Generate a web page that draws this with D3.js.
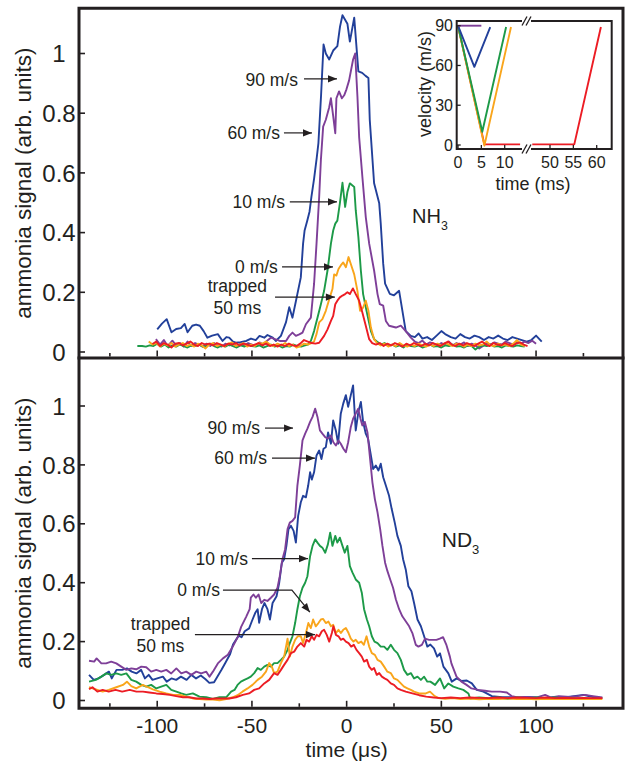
<!DOCTYPE html>
<html><head><meta charset="utf-8">
<script src="https://cdn.jsdelivr.net/npm/d3@7"></script>
<style>
body{margin:0;background:#fff}
svg{display:block}
text{font-family:"Liberation Sans",Arial,sans-serif;fill:#231f20}
</style>
</head><body>
<svg id="c" width="625" height="762"></svg>
<script>
// ---------- DATA (time in µs, signal in arb. units) ----------
const topBlue60 = [[-100,0.076],[-97.5,0.095],[-95,0.11],[-92.5,0.066],[-90,0.077],[-87.5,0.08],[-85.5,0.094],[-84,0.066],[-81.5,0.088],[-79.5,0.092],[-77.5,0.088],[-75.5,0.07],[-73.5,0.048],[-71,0.055],[-68,0.06],[-65.5,0.037],[-63.5,0.05],[-62,0.048],[-60,0.035],[-58.5,0.031],[-56,0.033],[-53,0.037],[-50.5,0.045],[-48,0.04],[-46,0.054],[-43.5,0.048],[-41.8,0.057],[-39,0.048],[-37.4,0.037],[-34.7,0.054],[-32,0.1],[-30.3,0.15],[-28.6,0.115],[-26.8,0.17],[-24.2,0.25],[-23,0.363],[-22.2,0.407],[-20.8,0.44],[-19.6,0.47],[-18.6,0.52],[-17.2,0.58],[-15.8,0.65],[-14.9,0.7],[-13.5,0.86],[-12.2,1.03],[-11,1.0],[-9.2,0.98],[-7.1,1.01],[-4.9,1.025],[-3.5,1.09],[-2.2,1.128],[0.4,1.10],[1.7,1.04],[4,1.12],[6.2,0.94],[8.2,0.935],[10,0.925],[11.5,0.918],[12.2,0.778],[14.5,0.565],[17.2,0.498],[18,0.43],[19.3,0.296],[20.3,0.229],[22.8,0.195],[25,0.19],[27.7,0.205],[31.2,0.07],[33.9,0.054],[36,0.05],[38,0.062],[40,0.045],[42.5,0.05],[45,0.04],[47.5,0.055],[50,0.07],[52,0.06],[55,0.05],[57.5,0.045],[60,0.06],[62.5,0.05],[65,0.045],[67.5,0.055],[70,0.05],[72.5,0.04],[75,0.05],[77.5,0.045],[80,0.055],[82.5,0.045],[85,0.04],[87.5,0.05],[90,0.045],[92.5,0.04],[95,0.035],[97.5,0.04],[100,0.055],[103,0.035]];
const topPurple90 = [[-100.7,0.043],[-98.5,0.025],[-96.5,0.04],[-94.5,0.02],[-92,0.038],[-90,0.022],[-88,0.03],[-86,0.018],[-84,0.035],[-82,0.02],[-80,0.03],[-78,0.025],[-76,0.018],[-74,0.028],[-72,0.02],[-70,0.03],[-68,0.022],[-66,0.018],[-64,0.028],[-62,0.022],[-60,0.03],[-58,0.02],[-56,0.028],[-54,0.022],[-52,0.03],[-50,0.025],[-48,0.02],[-46,0.032],[-44,0.025],[-42,0.038],[-40,0.048],[-37.5,0.042],[-35.3,0.037],[-32,0.037],[-30.3,0.054],[-28.6,0.065],[-26.8,0.054],[-25,0.059],[-23.3,0.065],[-21.5,0.093],[-18.9,0.115],[-17.2,0.228],[-15.9,0.363],[-14.5,0.52],[-13.6,0.643],[-12.4,0.755],[-11,0.778],[-9.2,0.82],[-8.3,0.85],[-7.1,0.79],[-6,0.733],[-5.4,0.85],[-4,0.873],[-2.5,0.85],[-1.3,0.86],[-0.1,0.88],[1.3,0.91],[3.4,0.98],[4.5,1.0],[5.7,0.856],[6.6,0.72],[8.3,0.587],[10.1,0.452],[11.9,0.363],[14.5,0.273],[16.3,0.194],[17.5,0.16],[19.3,0.155],[20.7,0.104],[22.4,0.088],[26,0.082],[28.6,0.088],[31.2,0.07],[33.9,0.048],[36,0.035],[38,0.03],[40,0.038],[42,0.025],[44,0.032],[46,0.028],[48,0.022],[50,0.03],[52,0.025],[54,0.035],[56,0.022],[58,0.03],[60,0.025],[62,0.032],[64,0.02],[66,0.028],[68,0.022],[70,0.012],[72,0.02],[74,0.03],[76,0.025],[78,0.032],[80,0.028],[82,0.025],[84,0.035],[86,0.03],[88,0.025],[90,0.032],[92,0.028],[94,0.035],[96,0.03],[98,0.038],[100,0.028]];
const topGreen10 = [[-110.5,0.02],[-108,0.02],[-106,0.018],[-104,0.022],[-102,0.02],[-100,0.028],[-98,0.018],[-96,0.025],[-94,0.015],[-92,0.022],[-90,0.018],[-88,0.025],[-86,0.02],[-84,0.015],[-82,0.022],[-80,0.02],[-78,0.025],[-76,0.018],[-74,0.02],[-72,0.028],[-70,0.02],[-68,0.015],[-66,0.022],[-64,0.018],[-62,0.025],[-60,0.02],[-58,0.015],[-56,0.022],[-54,0.018],[-52,0.025],[-50,0.02],[-48,0.018],[-46,0.022],[-44,0.015],[-42,0.02],[-40,0.025],[-38,0.018],[-36,0.022],[-34,0.015],[-32,0.02],[-30,0.018],[-28,0.025],[-26,0.02],[-24,0.018],[-22,0.022],[-20.5,0.025],[-18.9,0.037],[-17.2,0.07],[-15.4,0.115],[-13.6,0.16],[-11.9,0.205],[-10.1,0.273],[-8.3,0.363],[-7.1,0.407],[-6,0.43],[-4.9,0.44],[-3.6,0.497],[-2.2,0.567],[-0.8,0.486],[0.4,0.536],[1.7,0.565],[4,0.553],[4.8,0.475],[6.2,0.385],[7.5,0.273],[8.7,0.194],[10.5,0.138],[12.8,0.07],[14.5,0.043],[16,0.035],[18,0.025],[20,0.03],[22,0.02],[24,0.025],[26,0.018],[28,0.022],[30,0.015],[32,0.025],[34,0.02],[36,0.018],[38,0.022],[40,0.015],[42,0.02],[44,0.025],[46,0.018],[48,0.02],[50,0.015],[52,0.022],[54,0.02],[56,0.025],[58,0.018],[60,0.02],[62,0.015],[64,0.022],[66,0.02],[68,0.008],[70,0.018],[72,0.022],[74,0.02],[76,0.025],[78,0.018],[80,0.02],[82,0.015],[84,0.022],[86,0.02],[88,0.018],[90,0.022],[92,0.02],[94,0.018]];
const topOrange0 = [[-104.5,0.035],[-102.5,0.025],[-100.5,0.03],[-98.5,0.018],[-96.5,0.028],[-94.5,0.022],[-92.5,0.03],[-90.5,0.018],[-88.5,0.025],[-86.5,0.03],[-84.5,0.02],[-82.5,0.025],[-80.5,0.018],[-78.5,0.028],[-76.5,0.022],[-74.5,0.012],[-72.5,0.025],[-70.5,0.03],[-68.5,0.02],[-66.5,0.025],[-64.5,0.018],[-62.5,0.028],[-60.5,0.032],[-58.5,0.02],[-56.5,0.025],[-54.5,0.03],[-52.5,0.018],[-50.5,0.025],[-48.5,0.02],[-46.5,0.03],[-44.5,0.028],[-42.5,0.035],[-40.5,0.025],[-38.5,0.02],[-36.5,0.028],[-34.5,0.022],[-32.5,0.03],[-30.5,0.02],[-28.5,0.025],[-26.5,0.015],[-24.5,0.02],[-22.5,0.028],[-20.5,0.025],[-18.5,0.03],[-17.2,0.035],[-15.9,0.06],[-14.5,0.099],[-12.8,0.11],[-11,0.138],[-8.9,0.183],[-7.5,0.211],[-6.6,0.26],[-5.4,0.256],[-4.3,0.278],[-3.1,0.29],[-1.8,0.3],[-0.4,0.284],[1,0.318],[2.2,0.295],[4,0.26],[5.7,0.205],[7.1,0.138],[8.7,0.149],[10.1,0.172],[11.5,0.138],[12.8,0.082],[14.5,0.043],[16,0.03],[18,0.022],[20,0.028],[22,0.018],[24,0.025],[26,0.02],[28,0.03],[30,0.022],[32,0.018],[34,0.025],[36,0.02],[38,0.028],[40,0.022],[42,0.018],[44,0.025],[46,0.02],[48,0.028],[50,0.022],[52,0.03],[54,0.025],[56,0.02],[58,0.028],[60,0.025],[62,0.018],[64,0.025],[66,0.02],[68,0.028],[70,0.022],[72,0.025],[74,0.035],[76,0.022],[78,0.02],[80,0.028],[82,0.022],[84,0.025],[86,0.02],[88,0.028],[90,0.04],[92,0.025],[94,0.02]];
const topRedTrapped = [[-102.5,0.027],[-100.5,0.035],[-98.5,0.02],[-96.5,0.03],[-94.5,0.025],[-92.5,0.015],[-90.5,0.028],[-88.5,0.03],[-86.5,0.022],[-84.5,0.028],[-82.5,0.035],[-80.5,0.025],[-78.5,0.02],[-76.5,0.03],[-74.5,0.025],[-72.5,0.028],[-70.5,0.022],[-68.5,0.03],[-66.5,0.025],[-64.5,0.02],[-62.5,0.028],[-60.5,0.025],[-58.5,0.03],[-56.5,0.022],[-54.5,0.028],[-52.5,0.025],[-50.5,0.02],[-48.5,0.025],[-46.5,0.03],[-44.5,0.022],[-42.5,0.028],[-40.5,0.02],[-38.5,0.025],[-36.5,0.018],[-34.5,0.025],[-32.5,0.02],[-30.5,0.028],[-28.5,0.022],[-26.5,0.02],[-24.5,0.028],[-22.5,0.04],[-20.5,0.035],[-18.5,0.03],[-16.5,0.028],[-14.5,0.031],[-11.9,0.054],[-10.1,0.076],[-8.3,0.104],[-7.1,0.121],[-6,0.16],[-4.9,0.172],[-3.6,0.183],[-2.2,0.189],[-0.8,0.194],[0.4,0.2],[1.7,0.194],[3.3,0.213],[4.8,0.194],[6.6,0.172],[8.3,0.132],[10.1,0.088],[11.9,0.043],[13.5,0.03],[15.5,0.025],[17.5,0.03],[19.5,0.02],[21.5,0.028],[23.5,0.022],[25.5,0.03],[27.5,0.025],[29.5,0.018],[31.5,0.028],[33.5,0.022],[35.5,0.03],[37.5,0.025],[39.5,0.02],[41.5,0.028],[43.5,0.022],[45.5,0.03],[47.5,0.025],[49.5,0.02],[51.5,0.028],[53.5,0.035],[55.5,0.025],[57.5,0.02],[59.5,0.028],[61.5,0.022],[63.5,0.03],[65.5,0.025],[67.5,0.02],[69.5,0.028],[71.5,0.035],[73.5,0.025],[75.5,0.02],[77.5,0.03],[79.5,0.025],[81.5,0.022],[83.5,0.03],[85.5,0.025],[87.5,0.02],[89.5,0.028],[91.5,0.032],[93.5,0.025],[95.5,0.02]];

const botBlue60 = [[-136,0.087],[-133.5,0.07],[-131,0.075],[-128,0.087],[-125.5,0.098],[-124,0.075],[-121.5,0.104],[-118.5,0.104],[-116,0.109],[-113.5,0.098],[-111,0.092],[-108.5,0.104],[-106.5,0.075],[-104.5,0.087],[-102.5,0.07],[-100,0.075],[-97,0.081],[-95,0.064],[-92.5,0.075],[-90,0.07],[-87.5,0.081],[-84.5,0.07],[-82,0.087],[-79.5,0.075],[-77,0.085],[-74.5,0.072],[-72.5,0.06],[-70,0.062],[-68.5,0.078],[-66,0.105],[-64,0.128],[-61.5,0.158],[-60,0.19],[-58.5,0.205],[-57,0.22],[-55.5,0.215],[-53.8,0.235],[-51.5,0.245],[-50,0.27],[-48.3,0.297],[-47,0.31],[-46.2,0.264],[-44.7,0.31],[-43.4,0.331],[-41.8,0.31],[-40.5,0.275],[-39.1,0.331],[-37,0.354],[-35.6,0.4],[-34.2,0.468],[-33,0.48],[-31.8,0.525],[-30.7,0.582],[-29.4,0.593],[-28,0.576],[-26.8,0.536],[-25.6,0.627],[-24.2,0.673],[-23,0.695],[-21.5,0.69],[-20.3,0.73],[-19.3,0.775],[-18.4,0.75],[-17.2,0.775],[-15.9,0.832],[-14.5,0.849],[-13.3,0.82],[-12.2,0.855],[-11,0.86],[-9.8,0.91],[-8.3,0.872],[-7.1,0.951],[-5.7,0.917],[-4.5,0.872],[-3.1,0.974],[-1.8,1.008],[-0.4,1.037],[0.8,0.997],[2.2,1.037],[3.4,1.07],[4.8,0.917],[6.2,0.98],[7.5,1.014],[8.7,0.946],[10.1,0.906],[11.3,0.889],[12.8,0.832],[14,0.786],[15.4,0.798],[16.8,0.781],[18,0.804],[19.3,0.758],[20.7,0.73],[22.4,0.695],[23.8,0.65],[25.4,0.604],[26.8,0.559],[28.6,0.525],[29.8,0.48],[31.2,0.445],[32.6,0.388],[34.2,0.371],[35.6,0.331],[37.4,0.275],[39.2,0.252],[40.9,0.218],[42.6,0.183],[44.2,0.19],[46.1,0.177],[47.8,0.149],[49.3,0.16],[51.1,0.115],[53.7,0.092],[55.5,0.064],[58.1,0.075],[60.8,0.066],[63.4,0.068],[66.1,0.058],[68.7,0.036],[72.2,0.03],[76.7,0.015],[82,0.011],[86.5,0.011],[90,0.008],[95,0.012],[100,0.01],[105,0.008],[110,0.012],[115,0.01],[120,0.015],[125,0.019],[130,0.012],[135,0.008]];
const botPurple90 = [[-136,0.135],[-133.3,0.132],[-132,0.143],[-129.5,0.126],[-127,0.126],[-124.3,0.132],[-121.6,0.126],[-119,0.115],[-116.3,0.104],[-113.7,0.109],[-111.1,0.106],[-108.4,0.115],[-105.8,0.113],[-103.2,0.098],[-100.5,0.104],[-97.9,0.098],[-95.2,0.104],[-92.6,0.092],[-89.9,0.109],[-87.3,0.092],[-84.7,0.098],[-82,0.087],[-79.4,0.098],[-76.8,0.092],[-74.1,0.098],[-72.4,0.081],[-70.6,0.098],[-68,0.126],[-65.3,0.143],[-62.7,0.155],[-60.1,0.183],[-57.4,0.217],[-55.7,0.25],[-53,0.285],[-51.2,0.31],[-50.6,0.349],[-49.2,0.36],[-47.9,0.349],[-46.5,0.36],[-45.1,0.331],[-43.5,0.342],[-41.8,0.338],[-40,0.349],[-38.3,0.36],[-36.5,0.383],[-35.3,0.422],[-33.9,0.48],[-32.5,0.513],[-31.2,0.582],[-30,0.604],[-28.6,0.61],[-27.2,0.622],[-26,0.73],[-24.7,0.798],[-23.3,0.883],[-21.9,0.906],[-20.7,0.923],[-19.3,0.946],[-18,0.963],[-16.6,0.991],[-15.4,0.963],[-14.1,0.917],[-12.8,0.906],[-11.3,0.894],[-9.9,0.889],[-8.3,0.9],[-7,0.877],[-5.7,0.866],[-4.3,0.883],[-3.1,0.872],[-1.7,0.855],[-0.4,0.843],[0.8,0.877],[2.2,0.929],[3.4,0.957],[4.8,0.974],[6.1,0.991],[7.3,0.957],[8.3,0.934],[9.6,0.946],[11,0.91],[12.2,0.832],[13.6,0.741],[14.9,0.684],[16.3,0.639],[17.7,0.582],[18.9,0.525],[20.3,0.468],[21.5,0.44],[23,0.411],[24.5,0.383],[26,0.343],[27.7,0.31],[29.4,0.286],[31.2,0.269],[33,0.252],[34.7,0.229],[36.5,0.189],[37.9,0.183],[39.7,0.189],[41.4,0.21],[43.5,0.206],[45.3,0.206],[47.4,0.206],[49.2,0.21],[50.9,0.215],[52.6,0.19],[54.5,0.149],[55.3,0.126],[58,0.081],[60.6,0.064],[63.3,0.053],[65.9,0.041],[69.5,0.036],[73,0.033],[76.6,0.03],[81,0.03],[84.6,0.027],[87.1,0.015],[89.8,0.011],[95,0.012],[100,0.01],[104.8,0.019],[108,0.01],[112,0.015],[118,0.012],[122,0.015],[125.9,0.019],[130,0.015],[135,0.01]];
const botGreen10 = [[-136,0.064],[-132.4,0.07],[-129.5,0.081],[-126.9,0.092],[-124.3,0.087],[-121.6,0.092],[-119,0.087],[-116.3,0.092],[-113.7,0.07],[-111.1,0.064],[-108.4,0.053],[-105.8,0.047],[-103.2,0.053],[-100.5,0.041],[-97.9,0.047],[-95.2,0.053],[-92.6,0.036],[-89.9,0.03],[-87.3,0.024],[-84.7,0.019],[-81.2,0.024],[-77.7,0.013],[-74.1,0.011],[-70.6,0.005],[-67.1,0.011],[-63.6,0.011],[-61,0.03],[-59.2,0.036],[-57.6,0.053],[-55.8,0.064],[-54,0.07],[-52.3,0.075],[-50.6,0.081],[-48.8,0.093],[-47,0.11],[-45.3,0.104],[-43.5,0.115],[-41.8,0.121],[-40,0.115],[-38.3,0.127],[-36.5,0.127],[-34.7,0.138],[-33,0.149],[-31.2,0.172],[-30,0.195],[-28.6,0.218],[-27.2,0.263],[-26,0.31],[-24.7,0.354],[-23.3,0.383],[-21.9,0.4],[-20.7,0.422],[-19.3,0.49],[-18,0.525],[-16.6,0.547],[-15.4,0.536],[-14.1,0.525],[-12.8,0.519],[-11.3,0.502],[-9.9,0.53],[-8.7,0.57],[-7.5,0.525],[-6,0.559],[-4.9,0.536],[-3.6,0.553],[-2.2,0.525],[-1,0.502],[0.4,0.525],[1.7,0.456],[3.1,0.434],[4.8,0.411],[6.6,0.4],[8,0.366],[9.2,0.31],[10.7,0.275],[11.9,0.252],[13.3,0.218],[14.7,0.2],[16.3,0.195],[18,0.183],[19.8,0.183],[21.5,0.172],[23.3,0.189],[25,0.172],[26.8,0.161],[28.6,0.138],[30.3,0.104],[32.1,0.087],[33.9,0.093],[35.6,0.075],[37.4,0.081],[39.2,0.07],[40.9,0.081],[42.6,0.064],[44.2,0.064],[46.7,0.053],[49.3,0.075],[51.5,0.041],[53.7,0.058],[56.3,0.047],[59,0.041],[61.6,0.036],[64.3,0.024],[65.2,0.007],[70,0.01],[75,0.008],[80,0.01],[85,0.006],[90,0.01],[95,0.007],[100,0.01],[105,0.008],[110,0.01],[115,0.006],[120,0.008],[125,0.005]];
const botOrange0 = [[-136,0.045],[-132.4,0.038],[-128.8,0.03],[-125.6,0.036],[-121.6,0.045],[-118.1,0.053],[-116,0.064],[-113.7,0.049],[-111.1,0.041],[-107.6,0.053],[-104.9,0.045],[-102.3,0.038],[-98.7,0.03],[-95.2,0.024],[-91.6,0.019],[-88,0.019],[-84.7,0.013],[-81.2,0.007],[-77.7,0.005],[-74.1,0.003],[-70.6,0.003],[-67.1,0.001],[-63.6,0.005],[-60.1,0.011],[-57.6,0.018],[-55,0.03],[-52.3,0.041],[-49.7,0.053],[-47,0.07],[-44.7,0.081],[-42.6,0.098],[-40.9,0.127],[-39.5,0.115],[-38.3,0.093],[-36.5,0.098],[-34.7,0.127],[-33,0.149],[-31.2,0.21],[-30,0.149],[-28.6,0.183],[-27.2,0.206],[-25.8,0.218],[-24.2,0.218],[-23,0.195],[-21.5,0.229],[-20.2,0.263],[-18.9,0.246],[-17.7,0.275],[-16.3,0.252],[-14.9,0.263],[-13.6,0.275],[-12.4,0.277],[-11,0.263],[-9.6,0.268],[-8.3,0.252],[-7.1,0.257],[-5.7,0.229],[-4.3,0.24],[-3.1,0.229],[-1.8,0.24],[-0.4,0.246],[1,0.229],[2.2,0.21],[3.6,0.2],[4.8,0.206],[6.2,0.195],[7.7,0.2],[9.1,0.189],[10.5,0.218],[11.9,0.183],[13.3,0.161],[14.9,0.155],[16.3,0.138],[18,0.132],[19.8,0.115],[21.5,0.098],[23.3,0.093],[25,0.075],[26.8,0.07],[28.6,0.058],[30.3,0.047],[32.1,0.041],[33.9,0.036],[35.6,0.03],[38.3,0.024],[41.8,0.024],[44,0.03],[46.5,0.015],[48.5,0.008],[52,0.006],[56,0.008],[60,0.005],[65,0.007],[70,0.004],[75,0.006],[80,0.005],[85,0.007],[90,0.005],[95,0.006],[100,0.004],[105,0.006],[110,0.005],[115,0.006],[120,0.005],[125,0.006],[130,0.005],[135,0.005]];
const botRedTrapped = [[-136,0.038],[-134.2,0.045],[-131.6,0.03],[-128.8,0.036],[-125.6,0.03],[-122,0.036],[-118.5,0.03],[-114.5,0.036],[-111,0.03],[-107.5,0.03],[-104.2,0.027],[-100.5,0.024],[-97,0.022],[-93.4,0.019],[-90,0.015],[-86.4,0.011],[-83,0.011],[-79.4,0.007],[-76,0.007],[-72.4,0.005],[-69,0.007],[-65.5,0.007],[-62,0.007],[-58.4,0.011],[-54.8,0.019],[-51.5,0.024],[-48.8,0.036],[-46.2,0.041],[-43.5,0.058],[-40.9,0.07],[-38.3,0.093],[-36.5,0.087],[-34.7,0.104],[-33,0.121],[-31.2,0.138],[-29.4,0.161],[-27.7,0.166],[-26,0.183],[-24.2,0.195],[-22.4,0.183],[-21.2,0.206],[-19.8,0.2],[-18.4,0.218],[-17.2,0.206],[-15.9,0.223],[-14.5,0.218],[-13.1,0.235],[-11.9,0.24],[-10.5,0.223],[-9.2,0.2],[-7.8,0.229],[-7,0.252],[-5.7,0.223],[-4.3,0.218],[-3.1,0.206],[-1.8,0.21],[-0.4,0.2],[1,0.195],[2.4,0.183],[3.8,0.189],[5.2,0.172],[6.6,0.161],[8,0.149],[9.2,0.132],[10.7,0.138],[11.9,0.115],[13.3,0.104],[14.5,0.11],[15.9,0.087],[17.2,0.093],[18.6,0.081],[20,0.075],[21.5,0.07],[23.3,0.058],[25,0.053],[26.8,0.041],[28.6,0.036],[31.2,0.03],[34.7,0.024],[38.3,0.018],[42,0.013],[46,0.01],[50,0.008],[55,0.01],[60,0.008],[65,0.01],[70,0.009],[75,0.008],[80,0.01],[85,0.008],[90,0.01],[95,0.009],[100,0.008],[105,0.01],[110,0.008],[115,0.009],[120,0.008],[125,0.009],[130,0.008],[135,0.008]];

// inset: velocity (m/s) vs time (ms)
const insetPurple = [[0,90],[5,90]];
const insetBlue = [[0,90],[3.5,59],[6.9,89]];
const insetGreen = [[0,90],[5.2,10],[10.3,89]];
const insetOrange = [[0,90],[5.65,-0.5],[11.35,89]];
const insetRedA = [[0,90],[5.65,0.5],[13.3,0.5]];
const insetRedB = [[46.2,0.5],[55.2,0.5],[60.9,89]];

// ticks & labels
const yTickValues = [0,0.2,0.4,0.6,0.8,1];
const yTickLabels = ["0","0.2","0.4","0.6","0.8","1"];
const xTickValues = [-125,-100,-75,-50,-25,0,25,50,75,100,125];
const xLabelValues = [-100,-50,0,50,100];
const insetYTicks = [0,30,60,90];
const insetXTicksLeft = [0,5,10];
const insetXTicksRight = [50,55,60];

const seriesNames = ["60 m/s","90 m/s","10 m/s","0 m/s","trapped"];
const colors = {"60 m/s":"#22409a","90 m/s":"#7e3f98","10 m/s":"#1d9a48","0 m/s":"#f9a51b","trapped":"#ec1c24"};

// ---------- DRAWING ----------
const svg = d3.select("#c");
const ink = "#231f20";
const L = 79, R = 623, T = 8.3, M = 358, B = 708.3;

const x = d3.scaleLinear().domain([-141.3,145.9]).range([L,R]);
const yT = d3.scaleLinear().domain([0,1]).range([352,53.5]);
const yB = d3.scaleLinear().domain([0,1]).range([700.5,406]);

const topData = [topBlue60, topPurple90, topGreen10, topOrange0, topRedTrapped];
const botData = [botBlue60, botPurple90, botGreen10, botOrange0, botRedTrapped];

function drawSeries(data, ys){
  const line = d3.line().x(d=>x(d[0])).y(d=>ys(d[1]));
  data.forEach((s,i)=>{
    svg.append("path").attr("d",line(s)).attr("fill","none")
      .attr("stroke",colors[seriesNames[i]]).attr("stroke-width",1.9)
      .attr("stroke-linejoin","round");
  });
}
drawSeries(topData, yT);
drawSeries(botData, yB);

// frame
const frame = svg.append("g").attr("stroke",ink).attr("stroke-width",3).attr("fill","none").attr("stroke-linecap","square");
frame.append("path").attr("d",`M${L},${B}V${T}H${R}V${B}H${L}`);
frame.append("path").attr("d",`M${L},${M}H${R}`);

// ticks
function yTicks(ys){
  yTickValues.forEach((v,i)=>{
    svg.append("line").attr("x1",L).attr("x2",L+6).attr("y1",ys(v)).attr("y2",ys(v))
      .attr("stroke",ink).attr("stroke-width",1.6);
    svg.append("text").attr("x",59).attr("y",ys(v)).attr("dy","0.36em")
      .attr("text-anchor","middle").attr("font-size",24).text(yTickLabels[i]);
  });
}
yTicks(yT); yTicks(yB);
function xTicks(yb){
  xTickValues.forEach(v=>{
    const len = (v%50===0)?6:3.5;
    svg.append("line").attr("x1",x(v)).attr("x2",x(v)).attr("y1",yb-1.5).attr("y2",yb-1.5-len)
      .attr("stroke",ink).attr("stroke-width",1.6);
  });
}
xTicks(M); xTicks(B);
xLabelValues.forEach(v=>{
  svg.append("text").attr("x",x(v)).attr("y",733).attr("text-anchor","middle")
    .attr("font-size",21).text(String(v));
});

// axis titles
svg.append("text").attr("x",x(0)).attr("y",757).attr("text-anchor","middle").attr("font-size",21).text("time (μs)");
[[(T+M)/2],[(M+B)/2]].forEach(([cy])=>{
  svg.append("text").attr("transform",`translate(31,${cy}) rotate(-90)`)
    .attr("text-anchor","middle").attr("font-size",22.5).text("ammonia signal (arb. units)");
});

// molecule labels
function molecule(ys, t, v, base, fs){
  const tx = svg.append("text").attr("x",x(t)).attr("y",ys(v)).attr("font-size",fs);
  tx.append("tspan").text(base);
  tx.append("tspan").attr("font-size",fs*0.62).attr("dy",fs*0.35).text("3");
}
molecule(yT, 34.5, 0.432, "NH", 20);
molecule(yB, 50.2, 0.521, "ND", 21);

// annotations (data coordinates)
function arrowHead(x2,y2,x1,y1){
  const ang = Math.atan2(y2-y1,x2-x1), len=9, w=3.6;
  const bx = x2-len*Math.cos(ang), by = y2-len*Math.sin(ang);
  const px = -Math.sin(ang)*w, py = Math.cos(ang)*w;
  svg.append("path").attr("d",`M${x2},${y2}L${bx+px},${by+py}L${bx-px},${by-py}Z`).attr("fill",ink);
}
function annotate(ys, label, textEnd, yc, pts){
  svg.append("text").attr("x",x(textEnd)).attr("y",ys(yc)).attr("dy","0.36em")
    .attr("text-anchor","end").attr("font-size",17.5).text(label);
  const p = pts.map(d=>[x(d[0]),ys(d[1])]);
  svg.append("path").attr("d",d3.line()(p)).attr("fill","none").attr("stroke",ink).attr("stroke-width",1.2);
  const a=p[p.length-1], b=p[p.length-2];
  arrowHead(a[0],a[1],b[0],b[1]);
}
function annotateTrapped(ys, tc, y1, y2, pts){
  svg.append("text").attr("x",x(tc)).attr("y",ys(y1)).attr("dy","0.3em").attr("text-anchor","middle").attr("font-size",17.5).text("trapped");
  svg.append("text").attr("x",x(tc)).attr("y",ys(y2)).attr("dy","0.36em").attr("text-anchor","middle").attr("font-size",17.5).text("50 ms");
  const p = pts.map(d=>[x(d[0]),ys(d[1])]);
  svg.append("path").attr("d",d3.line()(p)).attr("fill","none").attr("stroke",ink).attr("stroke-width",1.2);
  arrowHead(p[1][0],p[1][1],p[0][0],p[0][1]);
}
annotate(yT,"90 m/s",-25.7,0.911,[[-22.5,0.915],[-5.1,0.915]]);
annotate(yT,"60 m/s",-35.2,0.734,[[-33.1,0.734],[-18.3,0.734]]);
annotate(yT,"10 m/s",-32.5,0.503,[[-30,0.503],[-5.1,0.503]]);
annotate(yT,"0 m/s",-36.3,0.285,[[-34.1,0.285],[-7.2,0.285]]);
annotateTrapped(yT,-57.7,0.218,0.147,[[-37.8,0.184],[-6.2,0.184]]);

annotate(yB,"90 m/s",-45.7,0.925,[[-43.1,0.925],[-28.3,0.925]]);
annotate(yB,"60 m/s",-42.1,0.823,[[-39.4,0.823],[-16.7,0.823]]);
annotate(yB,"10 m/s",-52.1,0.482,[[-50,0.482],[-20.4,0.482]]);
annotate(yB,"0 m/s",-66.9,0.375,[[-65.3,0.375],[-28.9,0.375],[-19.4,0.3]]);
annotateTrapped(yB,-98.3,0.258,0.185,[[-80.1,0.224],[-16.7,0.224]]);

// ---------- INSET ----------
const iL=456.7, iR=611.7, iT=21, iB=149, gap0=522, gap1=531;
const yI = d3.scaleLinear().domain([0,90]).range([145,25.7]);
const xIa = d3.scaleLinear().domain([0,10]).range([458,504.7]);
const xIb = d3.scaleLinear().domain([50,60]).range([550,596.7]);
svg.append("rect").attr("x",iL).attr("y",iT).attr("width",iR-iL).attr("height",iB-iT).attr("fill","#fff");
const ilineA = d3.line().x(d=>xIa(d[0])).y(d=>yI(d[1]));
const ilineB = d3.line().x(d=>xIb(d[0])).y(d=>yI(d[1]));
const inset = svg.append("g").attr("fill","none").attr("stroke-width",1.9).attr("stroke-linejoin","round");
inset.append("path").attr("d",ilineA(insetRedA)).attr("stroke",colors["trapped"]);
inset.append("path").attr("d",ilineB(insetRedB)).attr("stroke",colors["trapped"]);
inset.append("path").attr("d",ilineA(insetOrange)).attr("stroke",colors["0 m/s"]);
inset.append("path").attr("d",ilineA(insetGreen)).attr("stroke",colors["10 m/s"]);
inset.append("path").attr("d",ilineA(insetBlue)).attr("stroke",colors["60 m/s"]);
inset.append("path").attr("d",ilineA(insetPurple)).attr("stroke",colors["90 m/s"]);

const ifr = svg.append("g").attr("stroke",ink).attr("stroke-width",2).attr("fill","none");
ifr.append("path").attr("d",`M${gap0},${iT}H${iL}V${iB}H${gap0}`);
ifr.append("path").attr("d",`M${gap1},${iT}H${iR}V${iB}H${gap1}`);
// break marks
[gap0+2.5, gap1-2.5].forEach(bx=>{
  [iT,iB].forEach(by=>{
    ifr.append("line").attr("x1",bx-2.5).attr("y1",by+4.5).attr("x2",bx+2.5).attr("y2",by-4.5).attr("stroke-width",1.3);
  });
});
insetYTicks.forEach(v=>{
  ifr.append("line").attr("x1",iL).attr("x2",iL+4).attr("y1",yI(v)).attr("y2",yI(v)).attr("stroke-width",1.3);
  svg.append("text").attr("x",453).attr("y",yI(v)).attr("dy","0.36em").attr("text-anchor","end").attr("font-size",16).text(v);
});
insetXTicksLeft.forEach(v=>{
  ifr.append("line").attr("x1",xIa(v)).attr("x2",xIa(v)).attr("y1",iB).attr("y2",iB-4).attr("stroke-width",1.3);
  svg.append("text").attr("x",xIa(v)).attr("y",168).attr("text-anchor","middle").attr("font-size",16).text(v);
});
insetXTicksRight.forEach(v=>{
  ifr.append("line").attr("x1",xIb(v)).attr("x2",xIb(v)).attr("y1",iB).attr("y2",iB-4).attr("stroke-width",1.3);
  svg.append("text").attr("x",xIb(v)).attr("y",168).attr("text-anchor","middle").attr("font-size",16).text(v);
});
svg.append("text").attr("x",533).attr("y",190).attr("text-anchor","middle").attr("font-size",18).text("time (ms)");
svg.append("text").attr("transform","translate(431,84) rotate(-90)").attr("text-anchor","middle").attr("font-size",18).text("velocity (m/s)");
</script>
</body></html>
